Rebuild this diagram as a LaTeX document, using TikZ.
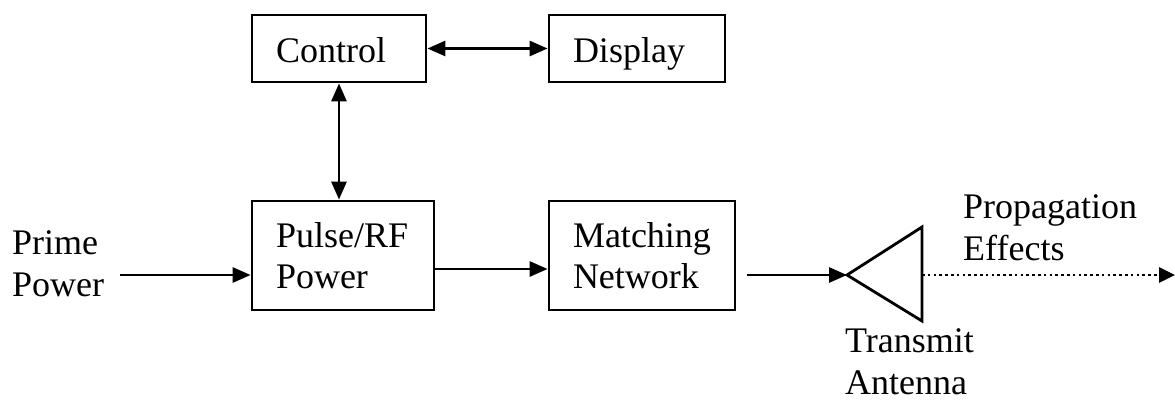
\documentclass[tikz,border=0pt]{standalone}
\usepackage{fontspec}
\setmainfont{Liberation Serif}
\usetikzlibrary{arrows.meta}
\tikzset{
  lw/.style={line width=2.8pt},
  blk/.style={draw, lw, inner xsep=24pt, inner ysep=0pt, align=left,
    minimum height=#1, font=\fontsize{36}{41.4}\selectfont},
  one/.style={text height=27pt, text depth=0pt},
  lbl/.style={inner sep=0pt, align=left, anchor=base west, font=\fontsize{36}{41.4}\selectfont},
  conn/.style={lw, -{Triangle[length=18pt,width=15pt]}},
  conn2/.style={lw, {Triangle[length=18pt,width=15pt]}-{Triangle[length=18pt,width=15pt]}},
  dotconn/.style={line width=2.8pt, dash pattern=on 2.6pt off 3.2pt, -{Triangle[length=16pt,width=15pt]}}
}
\begin{document}
\begin{tikzpicture}[x=1pt,y=-1pt]
\useasboundingbox (0,0) rectangle (1175,399);
\node[blk=67pt, one, text width=126pt] (ctrl) at (339,48.5) {Control};
\node[blk=67pt, one, text width=128pt] (disp) at (637,48.5) {Display};
\node[blk=109pt, text width=134pt] (pulse) at (343,255.5) {Pulse/RF\\Power};
\node[blk=109pt, text width=138pt] (match) at (642,255.5) {Matching\\Network};
\node[lbl] (prime) at (12,296) {Prime\\Power};
\node[lbl] (prop) at (963,260) {Propagation\\Effects};
\node[lbl] (tx) at (845,394) {Transmit\\Antenna};
% antenna
\coordinate (ant) at (847,275);
\coordinate (antb) at (922,275);
\draw[lw, line join=miter] (ant) -- (922,227) -- (922,321) -- cycle;
\coordinate (pin) at (120,275);
\coordinate (mout) at (747,275);
\coordinate (out) at (1175,275);
% connectors
\draw[conn2] (ctrl.east) -- (disp.west);
\draw[conn2] (ctrl.south) -- (ctrl.south |- pulse.north);
\draw[conn] (pin) -- (pin -| pulse.west);
\draw[conn] ([yshift=-13.5pt]pulse.east) -- ([yshift=-13.5pt]match.west);
\draw[conn] (mout) -- (ant);
\draw[dotconn] (antb) -- (out);
\end{tikzpicture}
\end{document}
